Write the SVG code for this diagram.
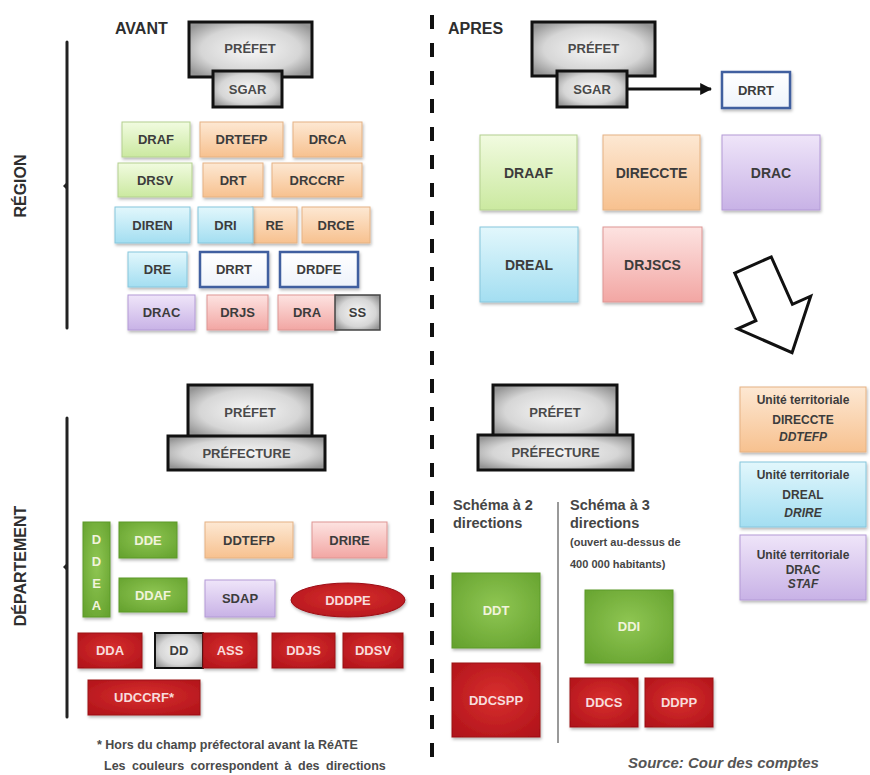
<svg xmlns="http://www.w3.org/2000/svg" width="870" height="775" viewBox="0 0 870 775">
<defs>
<radialGradient id="gGray" cx="50%" cy="50%" r="62%"><stop offset="0" stop-color="#f7f7f7"/><stop offset="0.65" stop-color="#d6d6d6"/><stop offset="1" stop-color="#959595"/></radialGradient>
<linearGradient id="gGreenL" x1="0" y1="0" x2="0" y2="1"><stop offset="0" stop-color="#f1fbe0"/><stop offset="1" stop-color="#cbe9a0"/></linearGradient>
<linearGradient id="gOrangeL" x1="0" y1="0" x2="0" y2="1"><stop offset="0" stop-color="#fde8d3"/><stop offset="1" stop-color="#f7c18f"/></linearGradient>
<linearGradient id="gCyanL" x1="0" y1="0" x2="0" y2="1"><stop offset="0" stop-color="#e2f7fc"/><stop offset="1" stop-color="#a3def1"/></linearGradient>
<linearGradient id="gPurpleL" x1="0" y1="0" x2="0" y2="1"><stop offset="0" stop-color="#efe5f9"/><stop offset="1" stop-color="#c8b2e6"/></linearGradient>
<linearGradient id="gPinkL" x1="0" y1="0" x2="0" y2="1"><stop offset="0" stop-color="#fde3e1"/><stop offset="1" stop-color="#f2a6a3"/></linearGradient>
<linearGradient id="gWhite" x1="0" y1="0" x2="0" y2="1"><stop offset="0" stop-color="#ffffff"/><stop offset="1" stop-color="#eef3fb"/></linearGradient>
<radialGradient id="gGreenD" cx="50%" cy="45%" r="70%"><stop offset="0" stop-color="#8fc653"/><stop offset="1" stop-color="#65a22e"/></radialGradient>
<radialGradient id="gRed" cx="50%" cy="45%" r="70%"><stop offset="0" stop-color="#d8302e"/><stop offset="1" stop-color="#b0121a"/></radialGradient>
<filter id="sh" x="-10%" y="-10%" width="125%" height="135%"><feDropShadow dx="1" dy="2" stdDeviation="1.5" flood-color="#000" flood-opacity="0.28"/></filter>
<marker id="ah" viewBox="0 0 10 10" refX="9" refY="5" markerWidth="4" markerHeight="4" orient="auto"><path d="M0,0 L10,5 L0,10 z" fill="#111"/></marker>
</defs>
<style>
text{font-family:"Liberation Sans",Arial,sans-serif;font-weight:bold}
.t{font-size:13px;text-anchor:middle;dominant-baseline:central;fill:#3c3c3c}
.tb{font-size:14px;text-anchor:middle;dominant-baseline:central;fill:#3c3c3c}
.tg{font-size:13px;text-anchor:middle;dominant-baseline:central;fill:#4a4a4a}
.tw{font-size:13px;text-anchor:middle;dominant-baseline:central;fill:#f1f3dc}
.tr{font-size:13px;text-anchor:middle;dominant-baseline:central;fill:#f7dcdc}
.gray{fill:url(#gGray);stroke:#111;stroke-width:3}
.gl{fill:url(#gGreenL);stroke:#b3d08f;stroke-width:1;filter:url(#sh)}
.ol{fill:url(#gOrangeL);stroke:#e5b283;stroke-width:1;filter:url(#sh)}
.cl{fill:url(#gCyanL);stroke:#86c6dc;stroke-width:1;filter:url(#sh)}
.pl{fill:url(#gPurpleL);stroke:#b39ad6;stroke-width:1;filter:url(#sh)}
.kl{fill:url(#gPinkL);stroke:#de9593;stroke-width:1;filter:url(#sh)}
.bl{fill:url(#gWhite);stroke:#3f5f9f;stroke-width:2.5;filter:url(#sh)}
.gd{fill:url(#gGreenD);stroke:#5c9a28;stroke-width:1;filter:url(#sh)}
.rd{fill:url(#gRed);stroke:#9c1016;stroke-width:1;filter:url(#sh)}
.hd{font-size:16px;fill:#2e2e2e}
.note{font-size:12.5px;fill:#4a4a4a}
.sch{font-size:14.5px;fill:#454545}
.sm{font-size:11px;fill:#454545}
.ut{font-size:12px;text-anchor:middle;fill:#3c3c3c}
</style>
<rect width="870" height="775" fill="#ffffff"/>

<g id="connectors">
<line x1="67" y1="42" x2="67" y2="328" stroke="#222" stroke-width="3" stroke-linecap="round"/>
<path d="M66,183 L63,186 L66,189 z" fill="#222"/>
<line x1="67" y1="418" x2="67" y2="717" stroke="#222" stroke-width="3" stroke-linecap="round"/>
<path d="M66,564 L63,567 L66,570 z" fill="#222"/>
<line x1="432" y1="15" x2="432" y2="762" stroke="#111" stroke-width="4" stroke-dasharray="14 14"/>
<line x1="558" y1="502" x2="558" y2="743" stroke="#777" stroke-width="1.5"/>
<line x1="627" y1="89" x2="711" y2="89" stroke="#111" stroke-width="3" marker-end="url(#ah)"/>
<polygon points="-20,0 20,0 20,52 40,52 0,96 -40,52 -20,52" transform="translate(753,265) rotate(-24)" fill="#fff" stroke="#111" stroke-width="3" stroke-linejoin="miter"/>
</g>

<text class="hd" x="115" y="34">AVANT</text>
<text class="hd" x="448" y="34">APRES</text>
<text class="hd" text-anchor="middle" transform="translate(26,186) rotate(-90)">RÉGION</text>
<text class="hd" text-anchor="middle" transform="translate(26,566) rotate(-90)">DÉPARTEMENT</text>

<!-- AVANT region -->
<g id="prefet-a"><rect class="gray" x="189" y="22" width="123" height="55"/><text class="tg" x="250" y="48">PRÉFET</text></g>
<g id="sgar-a"><rect class="gray" x="213" y="71" width="69" height="36"/><text class="tg" x="247.5" y="89">SGAR</text></g>
<g id="draf"><rect class="gl" x="122" y="122" width="68" height="35"/><text class="t" x="156" y="139.5">DRAF</text></g>
<g id="drtefp"><rect class="ol" x="200" y="122" width="83" height="35"/><text class="t" x="241.5" y="139.5">DRTEFP</text></g>
<g id="drca"><rect class="ol" x="293" y="122" width="69" height="35"/><text class="t" x="327.5" y="139.5">DRCA</text></g>
<g id="drsv"><rect class="gl" x="118" y="163" width="74" height="34"/><text class="t" x="155" y="180">DRSV</text></g>
<g id="drt"><rect class="ol" x="203" y="163" width="60" height="34"/><text class="t" x="233" y="180">DRT</text></g>
<g id="drccrf"><rect class="ol" x="272" y="163" width="90" height="34"/><text class="t" x="317" y="180">DRCCRF</text></g>
<g id="diren"><rect class="cl" x="115" y="207" width="75" height="36"/><text class="t" x="152.5" y="225">DIREN</text></g>
<g id="re"><rect class="ol" x="252" y="207" width="45" height="36"/><text class="t" x="274.5" y="225">RE</text></g>
<g id="dri"><rect class="cl" x="198" y="207" width="55" height="36"/><text class="t" x="225.5" y="225">DRI</text></g>
<g id="drce"><rect class="ol" x="302" y="207" width="68" height="36"/><text class="t" x="336" y="225">DRCE</text></g>
<g id="dre"><rect class="cl" x="128" y="252" width="59" height="35"/><text class="t" x="157.5" y="269.5">DRE</text></g>
<g id="drrt-a"><rect class="bl" x="200" y="252" width="68" height="35"/><text class="t" x="234" y="269.5">DRRT</text></g>
<g id="drdfe"><rect class="bl" x="280" y="252" width="78" height="35"/><text class="t" x="319" y="269.5">DRDFE</text></g>
<g id="drac-a"><rect class="pl" x="128" y="295" width="67" height="35"/><text class="t" x="161.5" y="312.5">DRAC</text></g>
<g id="drjs"><rect class="kl" x="207" y="295" width="61" height="35"/><text class="t" x="237.5" y="312.5">DRJS</text></g>
<g id="dra"><rect class="kl" x="278" y="295" width="58" height="35"/><text class="t" x="307" y="312.5">DRA</text></g>
<g id="ss"><rect x="335" y="295" width="45" height="35" fill="url(#gGray)" stroke="#444" stroke-width="1.5"/><text class="t" x="357.5" y="312.5">SS</text></g>

<!-- APRES region -->
<g id="prefet-b"><rect class="gray" x="532" y="22" width="123" height="54"/><text class="tg" x="593.5" y="48">PRÉFET</text></g>
<g id="sgar-b"><rect class="gray" x="557" y="71" width="70" height="36"/><text class="tg" x="592" y="89">SGAR</text></g>
<g id="drrt-b"><rect class="bl" x="722" y="72" width="68" height="36"/><text class="t" x="756" y="90">DRRT</text></g>
<g id="draaf"><rect class="gl" x="480" y="135" width="97" height="75"/><text class="tb" x="528.5" y="172.5">DRAAF</text></g>
<g id="direccte"><rect class="ol" x="603" y="135" width="97" height="75"/><text class="tb" x="651.5" y="172.5">DIRECCTE</text></g>
<g id="drac-b"><rect class="pl" x="722" y="135" width="98" height="75"/><text class="tb" x="771" y="172.5">DRAC</text></g>
<g id="dreal"><rect class="cl" x="480" y="227" width="98" height="75"/><text class="tb" x="529" y="264.5">DREAL</text></g>
<g id="drjscs"><rect class="kl" x="603" y="227" width="99" height="75"/><text class="tb" x="652.5" y="264.5">DRJSCS</text></g>

<!-- AVANT departement -->
<g id="prefet-c"><rect class="gray" x="188" y="385" width="124" height="52"/><text class="tg" x="250" y="412">PRÉFET</text></g>
<g id="prefecture-c"><rect class="gray" x="168" y="436" width="157" height="34"/><text class="tg" x="246.5" y="453">PRÉFECTURE</text></g>
<g id="ddea"><rect class="gd" x="83" y="522" width="27" height="95"/><text class="tw" x="96.5" y="539">D</text><text class="tw" x="96.5" y="561">D</text><text class="tw" x="96.5" y="583">E</text><text class="tw" x="96.5" y="605">A</text></g>
<g id="dde"><rect class="gd" x="119" y="522" width="58" height="36"/><text class="tw" x="148" y="540">DDE</text></g>
<g id="ddtefp"><rect class="ol" x="205" y="522" width="88" height="36"/><text class="t" x="249" y="540">DDTEFP</text></g>
<g id="drire"><rect class="kl" x="312" y="522" width="75" height="36"/><text class="t" x="349.5" y="540">DRIRE</text></g>
<g id="ddaf"><rect class="gd" x="119" y="578" width="68" height="34"/><text class="tw" x="153" y="595">DDAF</text></g>
<g id="sdap"><rect class="pl" x="205" y="580" width="70" height="37"/><text class="t" x="240" y="598.5">SDAP</text></g>
<g id="dddpe"><ellipse class="rd" cx="348" cy="600" rx="57" ry="17"/><text class="tr" x="348" y="600">DDDPE</text></g>
<g id="dda"><rect class="rd" x="78" y="633" width="64" height="35"/><text class="tr" x="110" y="650.5">DDA</text></g>
<g id="dd"><rect x="155" y="633" width="48" height="35" fill="url(#gGray)" stroke="#111" stroke-width="2"/><text class="t" x="179" y="650.5">DD</text></g>
<g id="ass"><rect class="rd" x="203" y="633" width="54" height="35"/><text class="tr" x="230" y="650.5">ASS</text></g>
<g id="ddjs"><rect class="rd" x="272" y="633" width="63" height="35"/><text class="tr" x="303.5" y="650.5">DDJS</text></g>
<g id="ddsv"><rect class="rd" x="343" y="633" width="60" height="35"/><text class="tr" x="373" y="650.5">DDSV</text></g>
<g id="udccrf"><rect class="rd" x="88" y="680" width="112" height="35"/><text class="tr" x="144" y="697.5">UDCCRF*</text></g>
<text class="note" x="97" y="749">* Hors du champ préfectoral avant la RéATE</text>
<text class="note" x="104" y="770" word-spacing="3">Les couleurs  correspondent  à des directions</text>

<!-- APRES departement -->
<g id="prefet-d"><rect class="gray" x="493" y="385" width="124" height="52"/><text class="tg" x="555" y="412">PRÉFET</text></g>
<g id="prefecture-d"><rect class="gray" x="478" y="435" width="155" height="35"/><text class="tg" x="555.5" y="452.5">PRÉFECTURE</text></g>
<text class="sch" x="453" y="510">Schéma à 2</text>
<text class="sch" x="453" y="528">directions</text>
<text class="sch" x="570" y="510">Schéma à 3</text>
<text class="sch" x="570" y="528">directions</text>
<text class="sm" x="570" y="546">(ouvert au-dessus de</text>
<text class="sm" x="570" y="568">400 000 habitants)</text>
<g id="ut-direccte"><rect class="ol" x="740" y="387" width="126" height="65"/><text class="ut" x="803" y="404">Unité territoriale</text><text class="ut" x="803" y="424">DIRECCTE</text><text class="ut" x="803" y="441" font-style="italic">DDTEFP</text></g>
<g id="ut-dreal"><rect class="cl" x="740" y="462" width="126" height="65"/><text class="ut" x="803" y="479">Unité territoriale</text><text class="ut" x="803" y="499">DREAL</text><text class="ut" x="803" y="517" font-style="italic">DRIRE</text></g>
<g id="ut-drac"><rect class="pl" x="740" y="535" width="126" height="65"/><text class="ut" x="803" y="559">Unité territoriale</text><text class="ut" x="803" y="574">DRAC</text><text class="ut" x="803" y="588" font-style="italic">STAF</text></g>
<g id="ddt"><rect class="gd" x="452" y="573" width="88" height="75"/><text class="tw" x="496" y="610.5">DDT</text></g>
<g id="ddcspp"><rect class="rd" x="452" y="663" width="88" height="74"/><text class="tr" x="496" y="700">DDCSPP</text></g>
<g id="ddi"><rect class="gd" x="585" y="590" width="88" height="73"/><text class="tw" x="629" y="626.5">DDI</text></g>
<g id="ddcs"><rect class="rd" x="570" y="678" width="68" height="49"/><text class="tr" x="604" y="702.5">DDCS</text></g>
<g id="ddpp"><rect class="rd" x="645" y="678" width="68" height="49"/><text class="tr" x="679" y="702.5">DDPP</text></g>
<text x="628" y="768" font-size="15" font-style="italic" font-weight="normal" fill="#555">Source: Cour des comptes</text>
</svg>
